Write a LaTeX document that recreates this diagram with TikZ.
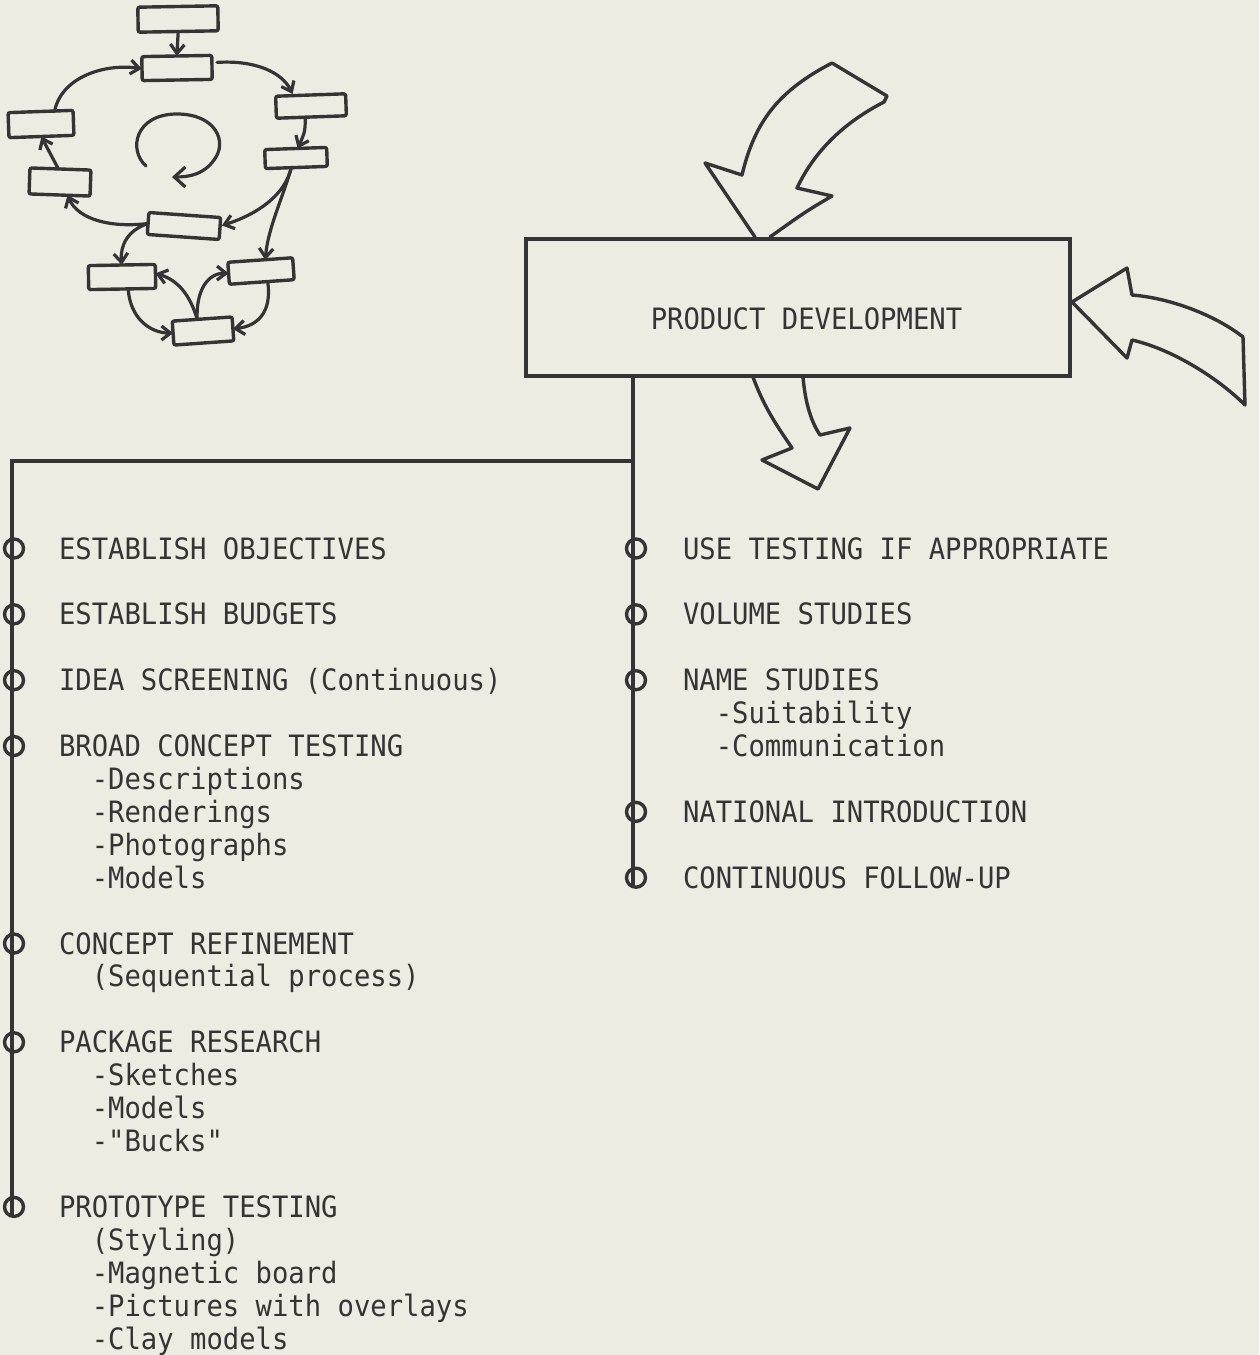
\documentclass[tikz,border=0pt]{standalone}
\usepackage{fontspec}
\newfontfamily\tw[FakeStretch=0.926]{DejaVu Sans Mono}
\usetikzlibrary{arrows.meta}
\definecolor{paper}{RGB}{236,236,226}
\definecolor{ink}{RGB}{52,52,52}

\begin{document}
\begin{tikzpicture}[x=0.5pt,y=-0.5pt,
  every node/.style={inner sep=0pt,outer sep=0pt},
  txt/.style={font=\tw\fontsize{14.7pt}{16pt}\selectfont,text=ink,anchor=base west},
  minibox/.style 2 args={draw=ink,line width=1.7pt,rounded corners=1pt,
    minimum width=#1,minimum height=#2},
  cyc/.style={draw=ink,line width=1.6pt,line cap=round,
    -{Straight Barb[length=4.5pt,width=7pt]}},
  fat/.style={draw=ink,line width=1.7pt,line join=round,line cap=round},
  spine/.style={draw=ink,line width=1.8pt},
  bullet/.style={circle,draw=ink,line width=1.7pt,minimum size=9.5pt},
  mainbox/.style={draw=ink,line width=2pt,minimum width=272pt,minimum height=68.5pt}
]
\useasboundingbox (0,0) rectangle (1259,1355);
\fill[paper] (0,0) rectangle (1259,1355);

% ---- small cyclic flow sketch ----
\node[minibox={40pt}{12.5pt},rotate=1]  (A) at (178,19)  {};
\node[minibox={35pt}{12pt},rotate=1]    (B) at (177,68)  {};
\node[minibox={35pt}{11pt},rotate=2]    (C) at (311,106) {};
\node[minibox={31pt}{9.5pt},rotate=2]   (D) at (296,158) {};
\node[minibox={32.5pt}{12.5pt},rotate=2](E) at (41,124)  {};
\node[minibox={30.5pt}{13pt},rotate=-2] (F) at (60,182)  {};
\node[minibox={36pt}{11pt},rotate=-4]   (G) at (184,226) {};
\node[minibox={33.5pt}{12pt},rotate=1]  (H) at (122,277) {};
\node[minibox={32.5pt}{11pt},rotate=4]  (I) at (261,271) {};
\node[minibox={30pt}{12pt},rotate=4]    (J) at (203,331) {};

\draw[cyc] (A.south) -- (B.north);
\draw[cyc] ([shift={(5,-5)}]B.east) .. controls (255,60) and (282,72) .. ([shift={(-18,-1)}]C.north);
\draw[cyc] ([shift={(-6,0)}]C.south) .. controls (305,132) .. ([shift={(2,0)}]D.north);
\draw[cyc] ([shift={(-5,0)}]D.south) .. controls (285,195) and (258,214) .. ([shift={(2,-3)}]G.east);
\draw[cyc] ([shift={(-5,0)}]D.south) .. controls (282,200) and (268,228) .. ([shift={(5,0)}]I.north);
\draw[cyc] (G.west) .. controls (112,228) and (78,220) .. ([shift={(8,0)}]F.south);
\draw[cyc] (G.west) .. controls (128,230) and (120,245) .. (H.north);
\draw[cyc] ([shift={(-2,0)}]F.north) .. controls (50,155) .. (E.south);
\draw[cyc] ([shift={(14,0)}]E.north) .. controls (60,80) and (100,63) .. (B.west);
\draw[cyc] ([shift={(-5,0)}]J.north) .. controls (190,295) and (178,280) .. ([shift={(0,-3)}]H.east);
\draw[cyc] ([shift={(-5,0)}]J.north) .. controls (196,290) and (208,273) .. (I.west);
\draw[cyc] ([shift={(6,0)}]H.south) .. controls (130,318) and (150,333) .. (J.west);
\draw[cyc] ([shift={(6,0)}]I.south) .. controls (272,312) and (258,326) .. (J.east);
% circular arrow in the middle of the loop
\draw[cyc,-{Straight Barb[length=5.5pt,width=10pt]}]
  (146,166) .. controls (128,150) and (135,114) .. (177,114)
  .. controls (216,114) and (228,142) .. (214,160)
  .. controls (204,174) and (190,177) .. (172,177);

% ---- central box ----
\node[mainbox] (pd) at (797.5,307) {};
\node[txt,anchor=base] (pdt) at (806.5,329) {PRODUCT DEVELOPMENT};

% hollow arrow coming in from above
\draw[fat] (755,237) -- (705,163) -- (742,175)
  .. controls (755,120) and (780,90) .. (832,63) -- (887,96) -- (884,102)
  .. controls (845,122) and (815,150) .. (797,188) -- (832,196)
  .. controls (805,212) .. (770,237);
% hollow arrow coming in from the right
\draw[fat] (1072,302) -- (1127,268) -- (1132,295)
  .. controls (1170,298) and (1215,315) .. (1243,337) -- (1245,405)
  .. controls (1220,380) and (1175,350) .. (1132,340) -- (1127,358)
  .. controls (1100,330) .. cycle;
% hollow arrow leaving downwards
\draw[fat] (753,377) .. controls (765,410) and (780,430) .. (792,448)
  -- (762,460) -- (818,489) -- (850,428) -- (820,435)
  .. controls (810,420) and (805,400) .. (803,377);

% ---- bullets ----
\foreach \s [count=\i] in {0,2,4,6,12,15,20}
  \node[bullet] (lb\i) at (14,{559+\s*32.92-10.5}) {};
\foreach \s [count=\i] in {0,2,4,8,10}
  \node[bullet] (rb\i) at (636,{559+\s*32.92-10.5}) {};

\coordinate (jn) at (633,461);
\coordinate (corner) at (12,461);
\draw[spine] (pd.south west -| jn) -- (jn) -- (rb1.center -| jn) -- (rb5.south -| jn);
\draw[spine] (jn) -- (corner) -- (lb1.center -| corner) -- (lb7.south -| corner);

% ---- left column ----
\node[txt] (l1)  at (59,{559+0*32.92})  {ESTABLISH OBJECTIVES};
\node[txt] (l2)  at (59,{559+2*32.92})  {ESTABLISH BUDGETS};
\node[txt] (l3)  at (59,{559+4*32.92})  {IDEA SCREENING (Continuous)};
\node[txt] (l4)  at (59,{559+6*32.92})  {BROAD CONCEPT TESTING};
\node[txt] (l4a) at (91.8,{559+7*32.92})  {-Descriptions};
\node[txt] (l4b) at (91.8,{559+8*32.92})  {-Renderings};
\node[txt] (l4c) at (91.8,{559+9*32.92})  {-Photographs};
\node[txt] (l4d) at (91.8,{559+10*32.92}) {-Models};
\node[txt] (l5)  at (59,{559+12*32.92}) {CONCEPT REFINEMENT};
\node[txt] (l5a) at (91.8,{559+13*32.92}) {(Sequential process)};
\node[txt] (l6)  at (59,{559+15*32.92}) {PACKAGE RESEARCH};
\node[txt] (l6a) at (91.8,{559+16*32.92}) {-Sketches};
\node[txt] (l6b) at (91.8,{559+17*32.92}) {-Models};
\node[txt] (l6c) at (91.8,{559+18*32.92}) {-"Bucks"};
\node[txt] (l7)  at (59,{559+20*32.92}) {PROTOTYPE TESTING};
\node[txt] (l7a) at (91.8,{559+21*32.92}) {(Styling)};
\node[txt] (l7b) at (91.8,{559+22*32.92}) {-Magnetic board};
\node[txt] (l7c) at (91.8,{559+23*32.92}) {-Pictures with overlays};
\node[txt] (l7d) at (91.8,{559+24*32.92}) {-Clay models};

% ---- right column ----
\node[txt] (r1)  at (683,{559+0*32.92})  {USE TESTING IF APPROPRIATE};
\node[txt] (r2)  at (683,{559+2*32.92})  {VOLUME STUDIES};
\node[txt] (r3)  at (683,{559+4*32.92})  {NAME STUDIES};
\node[txt] (r3a) at (715.8,{559+5*32.92}) {-Suitability};
\node[txt] (r3b) at (715.8,{559+6*32.92}) {-Communication};
\node[txt] (r4)  at (683,{559+8*32.92})  {NATIONAL INTRODUCTION};
\node[txt] (r5)  at (683,{559+10*32.92}) {CONTINUOUS FOLLOW-UP};
\end{tikzpicture}
\end{document}
